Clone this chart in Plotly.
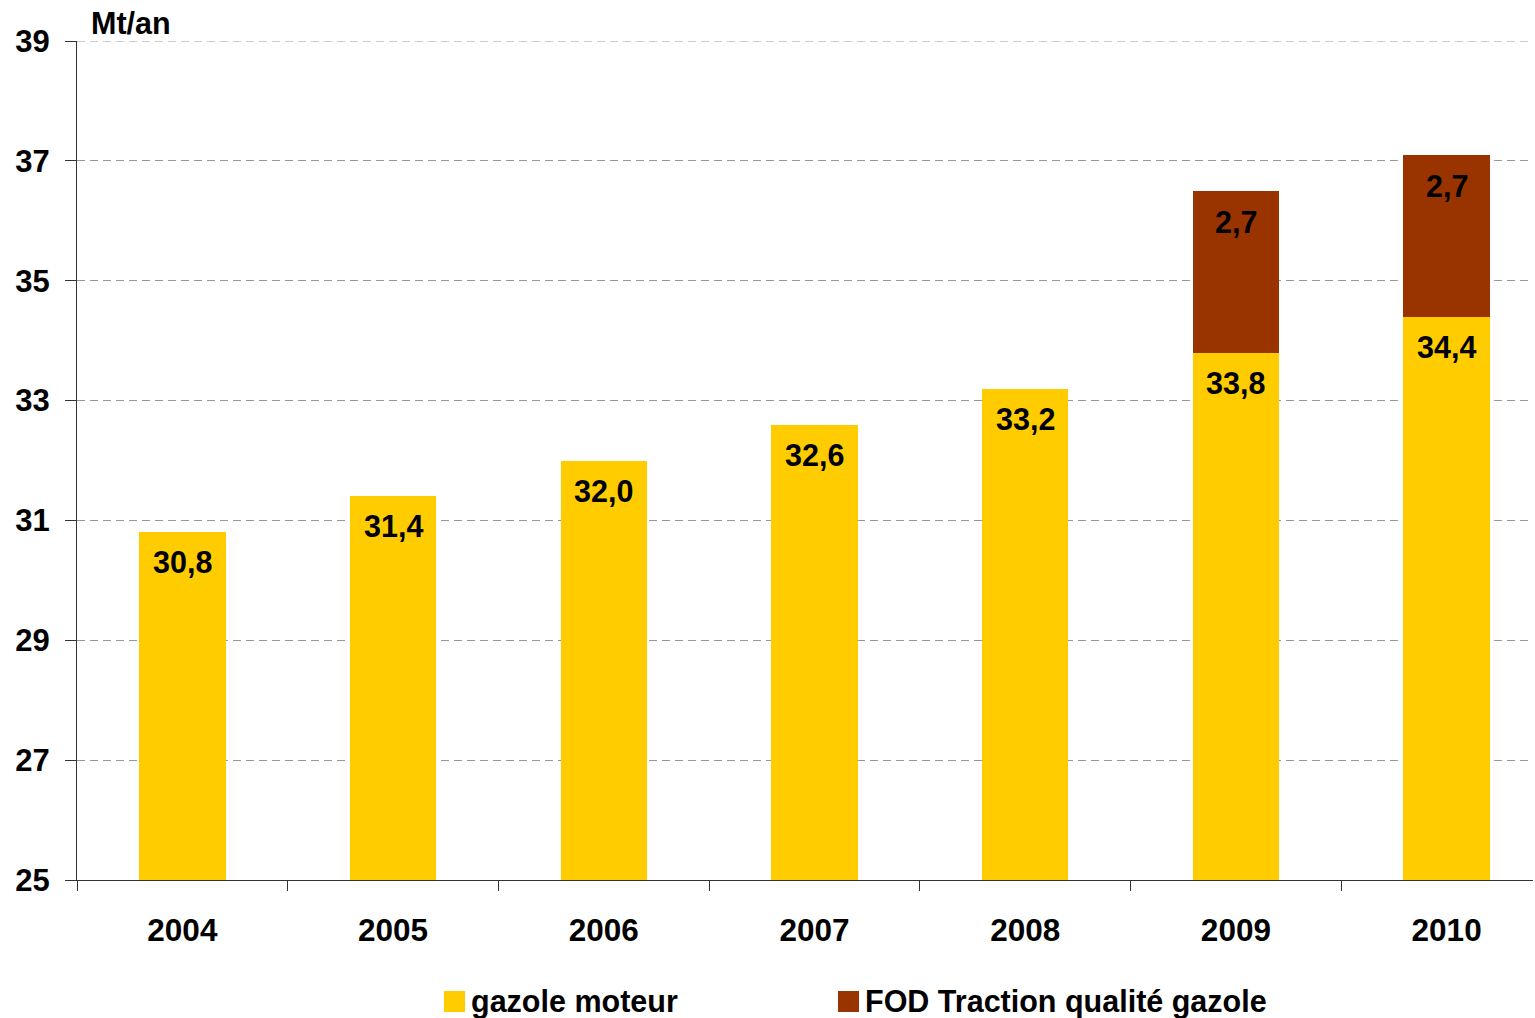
import plotly.graph_objects as go

years = ["2004", "2005", "2006", "2007", "2008", "2009", "2010"]
gazole_moteur = [30.8, 31.4, 32.0, 32.6, 33.2, 33.8, 34.4]
fod_traction = [None, None, None, None, None, 2.7, 2.7]
y_ticks = [25, 27, 29, 31, 33, 35, 37, 39]
legend_names = ["gazole moteur", "FOD Traction qualité gazole"]

YELLOW = "#FFCC00"
BROWN = "#993300"
FONT = "Liberation Sans, Arial, sans-serif"
FS = 30.5
DASH = "8px,5px"

# plot area in pixels
L, R, T, B = 77, 2, 41, 138
W, H = 1535, 1018
PW = W - L - R
PH = H - T - B

fig = go.Figure()
fig.add_trace(go.Bar(x=years, y=gazole_moteur,
                     marker=dict(color=YELLOW, line=dict(width=0)),
                     name=legend_names[0], width=0.41, showlegend=False))
fig.add_trace(go.Bar(x=years, y=fod_traction,
                     marker=dict(color=BROWN, line=dict(width=0)),
                     name=legend_names[1], width=0.41, showlegend=False))

def fmt(v):
    return f"{v:.1f}".replace(".", ",")

bold = dict(family=FONT, size=FS, color="black", weight="bold")
anns = []
for i, (g, f) in enumerate(zip(gazole_moteur, fod_traction)):
    anns.append(dict(x=i, y=g, xref="x", yref="y", text=fmt(g), showarrow=False,
                     yanchor="middle", yshift=-30, font=bold))
    if f is not None:
        anns.append(dict(x=i, y=g + f, xref="x", yref="y", text=fmt(f), showarrow=False,
                         yanchor="middle", yshift=-31, font=bold))

# unit label
anns.append(dict(x=(89 - L) / PW, y=1, xref="paper", yref="paper", text="Mt/an",
                 showarrow=False, xanchor="left", yanchor="bottom", yshift=-1,
                 font=bold))

def px_x(p):
    return (p - L) / PW

def px_y(p):
    return (H - B - p) / PH

shapes = []
# top gridline (hidden by plotly at range edge)
shapes.append(dict(type="line", xref="paper", yref="y", x0=0, x1=1, y0=y_ticks[-1], y1=y_ticks[-1],
                   line=dict(color="#999", width=1, dash=DASH), layer="below"))

legend_items = [(444, YELLOW, legend_names[0]), (838, BROWN, legend_names[1])]
for x0, col, name in legend_items:
    shapes.append(dict(type="rect", xref="paper", yref="paper",
                       x0=px_x(x0), x1=px_x(x0 + 21), y0=px_y(1012), y1=px_y(991),
                       fillcolor=col, line=dict(width=0)))
    anns.append(dict(x=px_x(x0 + 25), y=px_y(1001), xref="paper", yref="paper",
                     text=name, showarrow=False, xanchor="left", yanchor="middle",
                     font=bold))

fig.update_layout(
    width=W, height=H,
    margin=dict(l=L, r=R, t=T, b=B, pad=0),
    paper_bgcolor="white", plot_bgcolor="white",
    barmode="stack",
    font=bold,
    annotations=anns, shapes=shapes,
    showlegend=False,
)
fig.update_xaxes(type="category", range=[-0.5, 6.41], tickson="boundaries",
                 ticks="outside", ticklen=10, tickcolor="#333", tickwidth=1,
                 showline=True, linecolor="#333", linewidth=1, showgrid=False,
                 ticklabelstandoff=22,
                 tickfont=dict(family=FONT, size=31.5, color="black", weight="bold"))
fig.update_yaxes(range=[25, 39], tickvals=y_ticks, ticktext=[str(v) for v in y_ticks],
                 ticks="outside", ticklen=11, tickcolor="#333", tickwidth=1,
                 showline=True, linecolor="#333", linewidth=1,
                 showgrid=True, gridcolor="#999", griddash=DASH, gridwidth=1,
                 zeroline=False, ticklabelstandoff=9,
                 tickfont=dict(family=FONT, size=31, color="black", weight="bold"))

fig.write_html("out.html")
